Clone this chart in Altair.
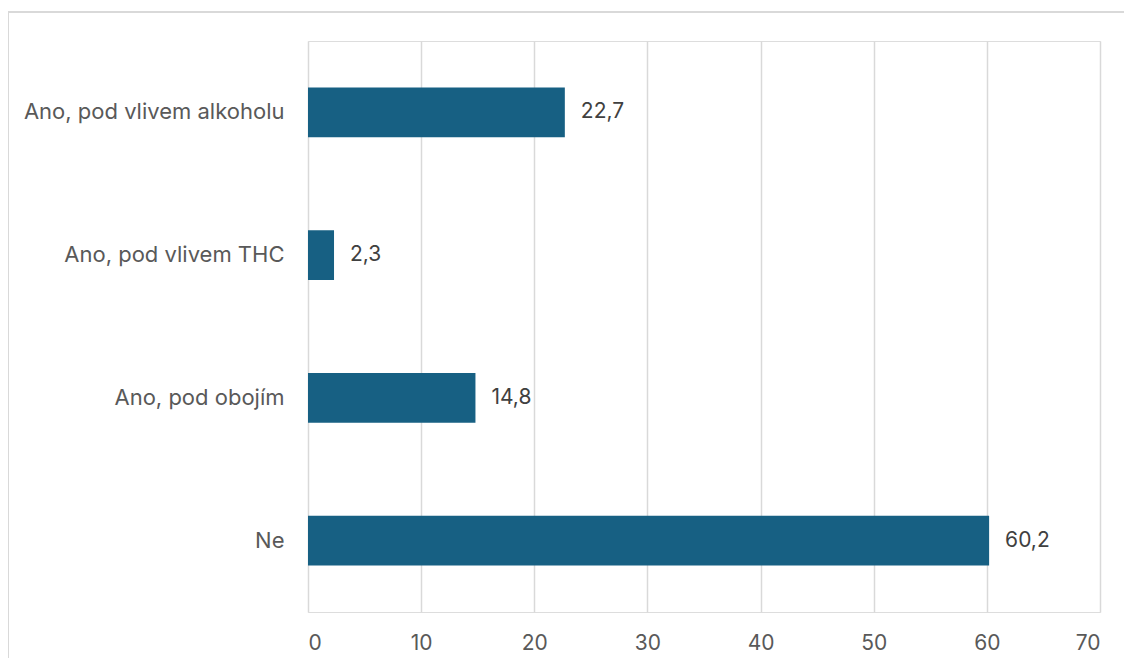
import altair as alt
import pandas as pd

categories = ["Ano, pod vlivem alkoholu", "Ano, pod vlivem THC", "Ano, pod obojím", "Ne"]
values = [22.7, 2.3, 14.8, 60.2]
labels = [f"{v:.1f}".replace(".", ",") for v in values]
x_ticks = [0, 10, 20, 30, 40, 50, 60, 70]

df = pd.DataFrame({"cat": categories, "val": values, "lab": labels})

W, H = 792, 571
FONT = "Inter"

x_enc = alt.X("val:Q", scale=alt.Scale(domain=[0, 70], nice=False, zero=True),
              axis=alt.Axis(values=x_ticks, grid=True, gridColor="#d9d9d9", gridWidth=1.5,
                            domain=False, ticks=False, labelPadding=20, labelFontSize=21,
                            labelColor="#595959", labelFont=FONT, title=None))
y_enc = alt.Y("cat:N", sort=categories,
              scale=alt.Scale(paddingInner=0.65, paddingOuter=0.325),
              axis=alt.Axis(domain=False, ticks=False, labelPadding=24, labelFontSize=22,
                            labelColor="#595959", labelFont=FONT, title=None, labelLimit=400))

bars = alt.Chart(df).mark_bar(color="#176083").encode(x=x_enc, y=y_enc)
text = alt.Chart(df).mark_text(align="left", baseline="middle", dx=16, fontSize=21,
                               font=FONT, color="#404040").encode(
    x="val:Q", y=alt.Y("cat:N", sort=categories), text="lab:N")

frame = alt.Chart(df).mark_rect(fill=None, stroke="#d9d9d9", strokeWidth=1.5, clip=False).encode(
    x=alt.value(-300), x2=alt.value(W + 30), y=alt.value(-29), y2=alt.value(H + 80))

chart = alt.layer(frame, bars, text).properties(
    width=W, height=H,
    autosize=alt.AutoSizeParams(type="none"),
    padding={"left": 300, "top": 33, "right": 24, "bottom": 46},
).configure_view(stroke=None).configure(background="white")

chart.save("out.html", embed_options={"renderer": "svg", "actions": False})
